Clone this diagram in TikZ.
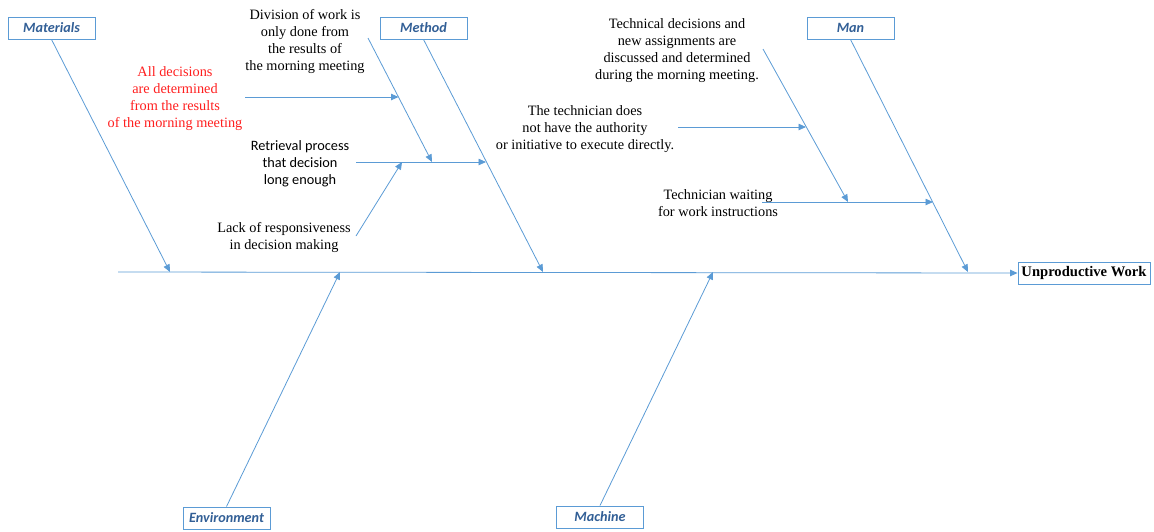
\documentclass[tikz,border=0pt]{standalone}
\usepackage{fontspec}
\setmainfont{Liberation Serif}
\newfontfamily\carlito{Carlito}
\usetikzlibrary{arrows.meta}
\definecolor{boneblue}{RGB}{91,155,213}
\definecolor{catblue}{RGB}{50,95,150}
\definecolor{causered}{RGB}{255,30,30}
\tikzset{
  bone/.style={draw=boneblue, line width=0.8pt, -{Triangle[width=6.5pt,length=7.5pt]}},
  catbox/.style={draw=boneblue, line width=0.9pt, minimum width=87pt, minimum height=22pt,
    inner sep=0pt, text=catblue, font=\carlito\bfseries\itshape\fontsize{14.2}{15}\selectfont},
  headbox/.style={draw=boneblue, line width=0.9pt, minimum width=132pt, minimum height=22pt,
    inner sep=0pt, font=\bfseries\fontsize{14.6}{15}\selectfont},
  cause/.style={align=center, inner sep=0pt, font=\fontsize{14.3}{17}\selectfont},
  causecal/.style={align=center, inner sep=0pt, font=\carlito\fontsize{14.3}{17}\selectfont}
}
\begin{document}
\begin{tikzpicture}[x=1pt,y=-1pt]
\useasboundingbox (0,0) rectangle (1154,531);

% category boxes and effect
\node[catbox] (mat) at (51.5,28) {Materials};
\node[catbox] (meth) at (423.5,28) {Method};
\node[catbox] (man) at (850.5,28) {Man};
\node[catbox] (env) at (226.5,518) {Environment};
\node[catbox] (mach) at (600,517) {Machine};
\node[headbox] (head) at (1084,273) {Unproductive Work};

% spine
\coordinate (tail) at (118,272);
\draw[bone] (tail) -- (head.west);

% points where the main bones meet the spine
\coordinate (sMat) at (170,272);
\coordinate (sMeth) at (543,272);
\coordinate (sMan) at (968,272);
\coordinate (sEnv) at (340,272);
\coordinate (sMach) at (713,272);

\draw[bone] (mat.south) -- (sMat);
\draw[bone] (meth.south) -- (sMeth);
\draw[bone] (man.south) -- (sMan);
\draw[bone] (env.north) -- (sEnv);
\draw[bone] (mach.north) -- (sMach);

% causes under Method
\node[cause] (div) at (305,42) {Division of work is\\only done from\\the results of\\the morning meeting};
\node[cause, text=causered] (all) at (175,99) {All decisions\\are determined\\from the results\\of the morning meeting};
\node[causecal] (retr) at (300,164) {Retrieval process\\that decision\\long enough};
\node[cause] (lack) at (284,237.5) {Lack of responsiveness\\in decision making};

\coordinate (divA) at (368,38);
\coordinate (divB) at (432,162);
\coordinate (allA) at (245,97);
\coordinate (allB) at (398.5,97);
\coordinate (retA) at (356,162);
\coordinate (retB) at (486,162);
\coordinate (lackA) at (356,236);
\coordinate (lackB) at (402,162);

\draw[bone] (retA) -- (retB);
\draw[bone] (divA) -- (divB);
\draw[bone] (allA) -- (allB);
\draw[bone] (lackA) -- (lackB);

% causes under Man
\node[cause] (tdec) at (677,51) {Technical decisions and\\new assignments are\\discussed and determined\\during the morning meeting.};
\node[cause] (auth) at (585,129) {The technician does\\not have the authority\\or initiative to execute directly.};
\node[cause] (wait) at (718,203) {Technician waiting\\for work instructions};

\coordinate (tdA) at (763,49);
\coordinate (tdB) at (848,202);
\coordinate (auA) at (678,127);
\coordinate (auB) at (806,127);
\coordinate (waA) at (762,202);
\coordinate (waB) at (933,202);

\draw[bone] (waA) -- (waB);
\draw[bone] (tdA) -- (tdB);
\draw[bone] (auA) -- (auB);
\end{tikzpicture}
\end{document}
